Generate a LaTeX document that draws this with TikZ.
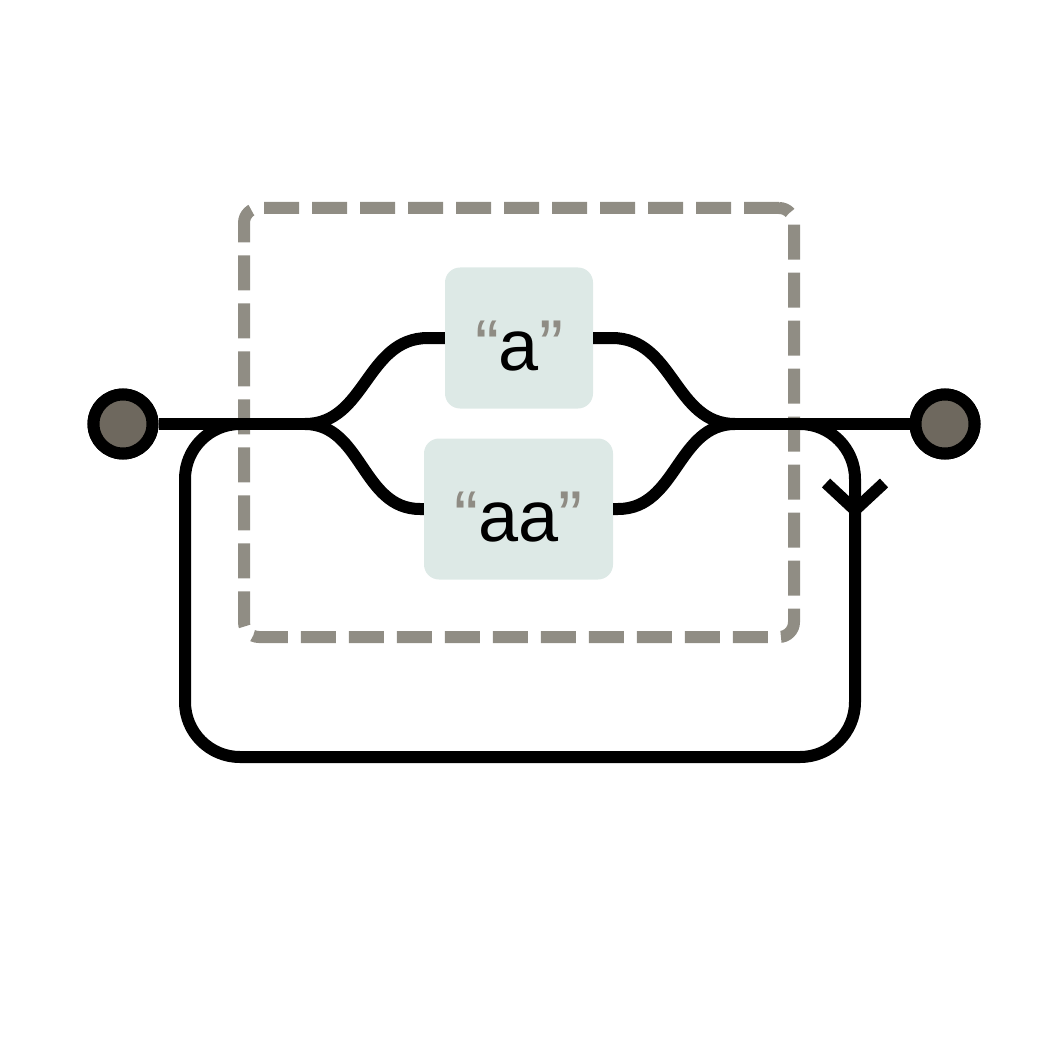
\documentclass[tikz,border=0pt]{standalone}
\usepackage{fontspec}
\setmainfont{Liberation Sans}
\definecolor{dotfill}{HTML}{6E685E}
\definecolor{grpgray}{HTML}{908D84}
\definecolor{boxfill}{HTML}{DDE9E6}
\definecolor{quotegray}{HTML}{8F8C84}
\tikzset{
  rail/.style={line width=12pt, black},
  terminal/.style={circle, draw=black, fill=dotfill, line width=12pt, minimum size=59pt, inner sep=0pt},
  litbox/.style={rectangle, rounded corners=15pt, fill=boxfill, inner sep=0pt, text height=103pt, text depth=38pt, font=\fontsize{72}{86}\selectfont},
  grpbox/.style={rectangle, rounded corners=15pt, draw=grpgray, line width=12pt, dash pattern=on 35pt off 13pt, inner sep=0pt},
}
\newcommand{\qq}[1]{\textcolor{quotegray}{“}#1\textcolor{quotegray}{”}}
\begin{document}
\begin{tikzpicture}[x=1pt,y=-1pt]
\useasboundingbox (0,0) rectangle (1040,1040);
% group
\node[grpbox, minimum width=550pt, minimum height=429pt] (grp) at (519,422.5) {};
% literal boxes
\node[litbox, minimum width=148pt] (ba) at (519,338) {\qq{a}};
\node[litbox, minimum width=189pt] (baa) at (518.5,509) {\qq{aa}};
% coordinates
\coordinate (split) at (305,424);
\coordinate (join) at (735,424);
\coordinate (ula) at (428,338);
\coordinate (ura) at (612,338);
\coordinate (lla) at (420,509);
\coordinate (lra) at (618,509);
\coordinate (loopr) at (800,424);
\coordinate (loopl) at (240,424);
\coordinate (armL) at (826,483);
\coordinate (tip) at (855,510);
\coordinate (armR) at (884,483);
% terminals
\node[terminal] (lc) at (123,424) {};
\node[terminal] (rc) at (945,424) {};
% main line
\draw[rail] (lc) -- (split);
\draw[rail] (join) -- (rc);
% branches
\draw[rail] (split) .. controls (366,424) and (366,338) .. (ula) -- (ba);
\draw[rail] (split) .. controls (362,424) and (362,509) .. (lla) -- (baa);
\draw[rail] (ba) -- (ura) .. controls (674,338) and (674,424) .. (join);
\draw[rail] (baa) -- (lra) .. controls (677,509) and (677,424) .. (join);
% loop back
\draw[rail, rounded corners=55pt] (loopr) -- (855,424) -- (855,757) -- (185,757) -- (185,424) -- (loopl);
% arrow
\draw[rail] (armL) -- (tip) -- (armR);
% redraw terminals on top
\node[terminal] at (lc) {};
\node[terminal] at (rc) {};
\end{tikzpicture}
\end{document}
